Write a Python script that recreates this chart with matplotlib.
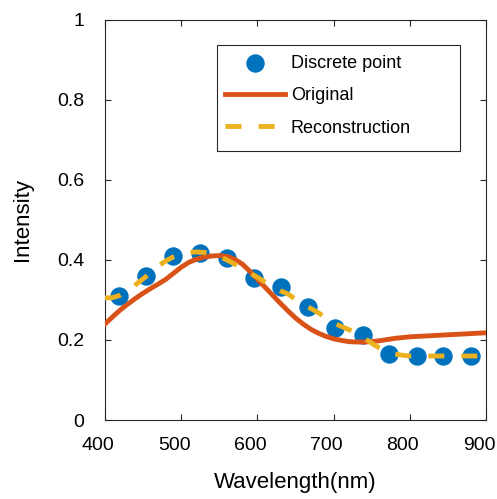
import matplotlib
matplotlib.use("Agg")
import matplotlib.pyplot as plt
from matplotlib.patches import Rectangle
from matplotlib.transforms import ScaledTranslation

plt.rcParams['font.family'] = ['Liberation Sans', 'DejaVu Sans']

# discrete sampled points
pt_wl = [419, 454, 489, 525, 560, 596, 631, 667, 702, 738, 773, 809, 844, 880]
pt_val = [0.311, 0.360, 0.410, 0.418, 0.405, 0.355, 0.332, 0.282, 0.230, 0.213,
          0.165, 0.160, 0.160, 0.160]

# original spectrum (every 10 nm)
orig_wl = list(range(400, 901, 10))
orig_val = [0.240, 0.258, 0.275, 0.290, 0.304, 0.317, 0.329, 0.340, 0.352, 0.367,
            0.382, 0.394, 0.402, 0.407, 0.410, 0.411, 0.409, 0.402, 0.390, 0.372,
            0.352, 0.332, 0.312, 0.292, 0.273, 0.255, 0.240, 0.227, 0.217, 0.209,
            0.203, 0.199, 0.196, 0.195, 0.195, 0.196, 0.198, 0.201, 0.204, 0.206,
            0.208, 0.209, 0.210, 0.211, 0.212, 0.213, 0.214, 0.215, 0.216, 0.217,
            0.218]

# reconstruction (every 10 nm)
rec_wl = list(range(400, 901, 10))
rec_val = [0.305, 0.306, 0.312, 0.323, 0.338, 0.353, 0.368, 0.385, 0.398, 0.408,
           0.415, 0.419, 0.420, 0.419, 0.415, 0.409, 0.400, 0.390, 0.378, 0.367,
           0.357, 0.345, 0.333, 0.323, 0.315, 0.302, 0.288, 0.279, 0.268, 0.255,
           0.243, 0.234, 0.226, 0.217, 0.205, 0.192, 0.180, 0.170, 0.165, 0.162,
           0.160, 0.160, 0.160, 0.160, 0.160, 0.160, 0.160, 0.160, 0.160, 0.160,
           0.160]

fig = plt.figure(figsize=(4.97, 4.99), dpi=100)
ax = fig.add_axes([0.2113, 0.1583, 0.7666, 0.8017])

ax.scatter(pt_wl, pt_val, s=150, color='#0072BD', zorder=2, label='Discrete point')
ax.plot(orig_wl, orig_val, color='#D95319', lw=3.5, zorder=3, label='Original')
ax.plot(rec_wl, rec_val, color='#EDB120', lw=3.5, dashes=(3.3, 3.5), zorder=4,
        label='Reconstruction')

ax.set_xlim(400, 900)
ax.set_ylim(0, 1)
ax.set_xticks([400, 500, 600, 700, 800, 900])
ax.set_yticks([0, 0.2, 0.4, 0.6, 0.8, 1])
ax.set_yticklabels(['0', '0.2', '0.4', '0.6', '0.8', '1'])
ax.tick_params(direction='in', top=True, right=True, length=4, width=0.8,
               labelsize=14, color='#262626')
ax.tick_params(axis='x', pad=12)
ax.tick_params(axis='y', pad=15)
for sp in ax.spines.values():
    sp.set_color('#262626')
    sp.set_linewidth(0.8)

# MATLAB-like: x tick labels sit a little left of their ticks
shift = ScaledTranslation(-5 / 72, 0, fig.dpi_scale_trans)
for lbl in ax.get_xticklabels():
    lbl.set_transform(lbl.get_transform() + shift)

ax.set_xlabel('Wavelength(nm)', fontsize=16, labelpad=13)
ax.set_ylabel('Intensity', fontsize=16, labelpad=17)

leg = ax.legend(loc='upper left', bbox_to_anchor=(0.315, 0.9125), fontsize=13,
                frameon=False, handlelength=3.3, handletextpad=0.35,
                labelspacing=0.85, borderpad=0, borderaxespad=0)
ax.add_patch(Rectangle((0.294, 0.6725), 0.638, 0.265, transform=ax.transAxes,
                       fill=False, edgecolor='#262626', lw=0.8, zorder=5))

fig.savefig('out.png', dpi=100)
